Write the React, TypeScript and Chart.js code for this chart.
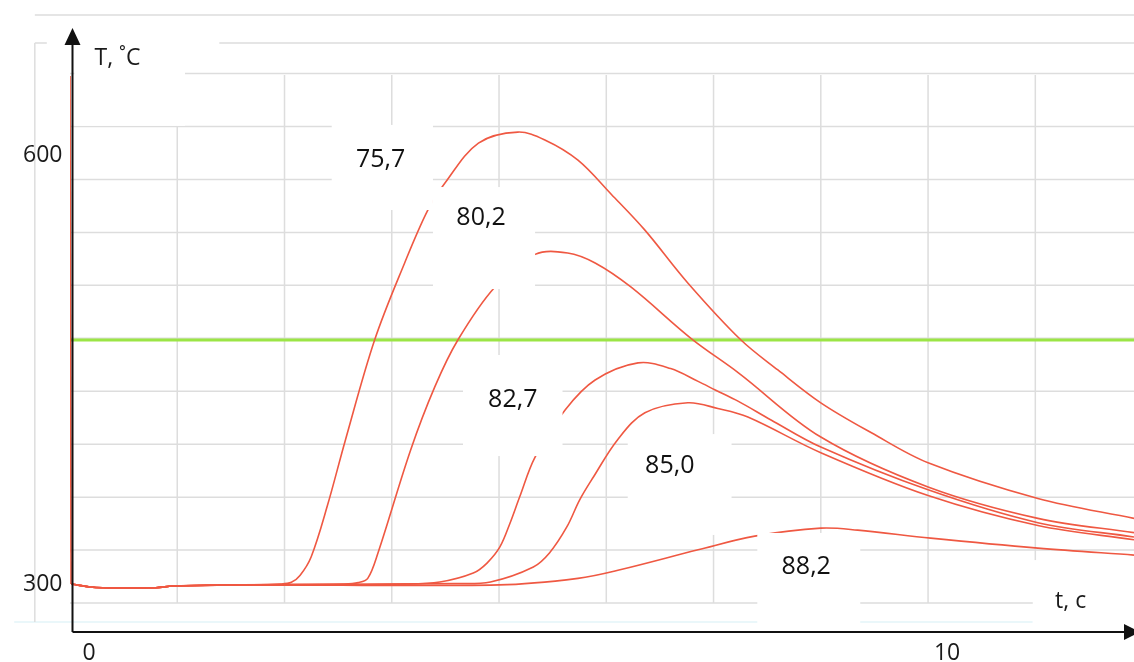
import React, { useEffect, useRef } from 'react';
import { Chart, registerables } from 'chart.js';

Chart.register(...registerables);

// ---- data (t, s ; T, °C) ----
const initialDrop: [number, number][] = [[0, 656], [0.012, 300]];
const curve757: [number, number][] = [
  [0.012, 300], [0.3, 297.6], [1.0, 297.4], [1.2, 298.6], [2.0, 299.4], [2.45, 300],
  [2.58, 301.2], [2.68, 306], [2.81, 319], [3.0, 355], [3.21, 401], [3.55, 471], [3.9, 525],
  [4.17, 562], [4.37, 581], [4.76, 609], [5.22, 616.7], [5.54, 611], [5.92, 597], [6.31, 573],
  [6.7, 548], [7.2, 511], [7.82, 471], [8.25, 450], [8.75, 427], [9.34, 406], [10.0, 385],
  [11.28, 360], [12.4, 346],
];
const curve802: [number, number][] = [
  [0.012, 300], [0.3, 297.6], [1.0, 297.4], [1.2, 298.6], [2.0, 299.4], [3.2, 300], [3.36, 301],
  [3.47, 304], [3.59, 322], [3.97, 394], [4.25, 438], [4.52, 471], [4.95, 508], [5.42, 531],
  [5.8, 532], [6.12, 525], [6.54, 508], [7.24, 472], [7.79, 448], [8.75, 403], [10.0, 368],
  [11.28, 346], [12.4, 336],
];
const curve827: [number, number][] = [
  [0.012, 300], [0.3, 297.6], [1.0, 297.4], [1.2, 298.6], [2.0, 299.4], [3.9, 300], [4.31, 301.4],
  [4.7, 307.7], [4.86, 314.7], [5.01, 326], [5.13, 343], [5.24, 361], [5.42, 389], [5.77, 422],
  [6.12, 443], [6.62, 455], [7.0, 451], [7.32, 442], [7.52, 436], [7.79, 428], [8.17, 415],
  [8.75, 396], [10.0, 366], [11.28, 343], [12.4, 333],
];
const curve850: [number, number][] = [
  [0.012, 300], [0.3, 297.6], [1.0, 297.4], [1.2, 298.6], [2.0, 299.4], [4.5, 300.3], [4.9, 301.5],
  [5.4, 312], [5.59, 322], [5.79, 340], [5.94, 359], [6.1, 375], [6.38, 401], [6.7, 420],
  [7.2, 427], [7.55, 423], [7.9, 417], [8.75, 392], [10.0, 362], [11.28, 341], [12.4, 331],
];
const curve882: [number, number][] = [
  [0.012, 300], [0.3, 297.6], [1.0, 297.4], [1.2, 298.6], [2.0, 299.4], [5.0, 299.4], [5.92, 304],
  [6.41, 310], [7.32, 324], [7.98, 333.6], [8.75, 339.2], [9.18, 337.8], [10.03, 332.2],
  [11.28, 325.2], [12.4, 320.3],
];
const curves = [curve757, curve802, curve827, curve850, curve882];
const curveLabels = ['75,7', '80,2', '82,7', '85,0', '88,2'];
const criticalTemp = 471;

const tMax = 12.4;
const TMin = 266.4;
const TMax = 656.7;
const xGridValues = [1.25, 2.5, 3.75, 5, 6.25, 7.5, 8.75, 10, 11.25];
const yGridValues = [286.7, 323.8, 360.9, 398.0, 435.1, 472.2, 509.3, 546.4, 583.5, 620.6, 657.7];
const yGridTopValues = [679.1, 698.7];
const xTickValues = [0, 10];
const yTickValues = [300, 600];
const xTitle = 't, c';
const yTitle = 'T, ˚C';

// label centres (t, T) and their white background boxes (t0, t1, Ttop, Tbottom)
const labelAnchors: [number, number][] = [
  [3.62, 597.1], [4.79, 556.5], [5.16, 428.9], [6.99, 382.7], [8.58, 311.9],
];
const labelBoxes: [number, number, number, number][] = [
  [3.05, 4.23, 621.7, 562.1],
  [4.23, 5.42, 578.2, 506.7],
  [4.58, 5.74, 460.5, 389.7],
  [6.5, 7.71, 405.1, 334.4],
  [8.01, 9.21, 335.8, 270.6],
  [11.22, 12.4, 316.8, 267.1],
  [0.05, 1.34, 682.6, 621.0],
  [-0.27, 1.74, 682.6, 670.0],
];

const RED = '#ef5842';
const GREEN = '#9be545';
const FONT = '"Open Sans", "Noto Sans", sans-serif';

const decor = {
  id: 'decor',
  beforeDatasetsDraw(chart: any) {
    const { ctx, chartArea: a, scales } = chart;
    const x = scales.x;
    const y = scales.y;
    const line = (x0: number, y0: number, x1: number, y1: number) => {
      ctx.beginPath();
      ctx.moveTo(x0, y0);
      ctx.lineTo(x1, y1);
      ctx.stroke();
    };
    ctx.save();
    ctx.lineWidth = 1.5;
    ctx.strokeStyle = '#e3f4f9';
    const cy = y.getPixelForValue(273.4);
    line(x.getPixelForValue(-0.65), cy, x.getPixelForValue(11.22), cy);
    ctx.strokeStyle = '#dddddd';
    const gridBottom = y.getPixelForValue(yGridValues[0]);
    yGridValues.forEach((v) => {
      const py = y.getPixelForValue(v);
      line(a.left, py, a.right, py);
    });
    yGridTopValues.forEach((v) => {
      const py = y.getPixelForValue(v);
      line(x.getPixelForValue(-0.41), py, a.right, py);
    });
    xGridValues.forEach((v) => {
      const px = x.getPixelForValue(v);
      line(px, a.top, px, gridBottom);
    });
    const lx = x.getPixelForValue(-0.41);
    line(lx, y.getPixelForValue(679.1), lx, y.getPixelForValue(273.4));
    ctx.restore();
  },
  afterDatasetsDraw(chart: any) {
    const { ctx, chartArea: a, scales } = chart;
    const x = scales.x;
    const y = scales.y;
    ctx.save();
    ctx.fillStyle = '#ffffff';
    labelBoxes.forEach(([t0, t1, T0, T1]) => {
      const x0 = x.getPixelForValue(t0);
      const x1 = x.getPixelForValue(t1);
      const y0 = y.getPixelForValue(T0);
      const y1 = y.getPixelForValue(T1);
      ctx.fillRect(x0, y0, x1 - x0, y1 - y0);
    });
    ctx.fillStyle = '#111111';
    ctx.font = `25px ${FONT}`;
    ctx.textAlign = 'center';
    ctx.textBaseline = 'middle';
    curveLabels.forEach((lbl, i) => {
      const [t, T] = labelAnchors[i];
      ctx.fillText(lbl, x.getPixelForValue(t), y.getPixelForValue(T));
    });
    const ox = x.getPixelForValue(0) + 2.5;
    const oy = a.bottom;
    ctx.strokeStyle = '#111111';
    ctx.fillStyle = '#111111';
    ctx.lineWidth = 2;
    ctx.beginPath();
    ctx.moveTo(ox, oy);
    ctx.lineTo(ox, 40);
    ctx.moveTo(ox, oy);
    ctx.lineTo(a.right, oy);
    ctx.stroke();
    ctx.beginPath();
    ctx.moveTo(ox, 28);
    ctx.lineTo(ox - 8, 45);
    ctx.lineTo(ox + 8, 45);
    ctx.closePath();
    ctx.fill();
    ctx.beginPath();
    ctx.moveTo(a.right + 6, oy);
    ctx.lineTo(a.right - 10, oy - 8);
    ctx.lineTo(a.right - 10, oy + 8);
    ctx.closePath();
    ctx.fill();
    ctx.fillStyle = '#1a1a1a';
    ctx.font = `23px ${FONT}`;
    ctx.textAlign = 'right';
    ctx.textBaseline = 'middle';
    yTickValues.forEach((v) => ctx.fillText(String(v), ox - 10, y.getPixelForValue(v)));
    ctx.textAlign = 'center';
    xTickValues.forEach((v) => ctx.fillText(String(v), x.getPixelForValue(v) + 19, oy + 21));
    ctx.textAlign = 'left';
    ctx.fillText(yTitle, ox + 22, 58);
    ctx.fillText(xTitle, a.right - 79, oy - 31);
    ctx.restore();
  },
};

export default function App() {
  const ref = useRef<HTMLCanvasElement | null>(null);
  useEffect(() => {
    if (!ref.current) return;
    const datasets: any[] = curves.map((c, i) => ({
      label: curveLabels[i],
      data: c.map(([t, T]) => ({ x: t, y: T })),
      borderColor: RED,
      borderWidth: 1.6,
      pointRadius: 0,
      fill: false,
      tension: 0.35,
    }));
    datasets.push({
      label: 'start',
      data: initialDrop.map(([t, T]) => ({ x: t, y: T })),
      borderColor: RED,
      borderWidth: 1.6,
      pointRadius: 0,
      fill: false,
      tension: 0,
    });
    datasets.push({
      label: 'critical',
      data: [
        { x: 0, y: criticalTemp },
        { x: tMax, y: criticalTemp },
      ],
      borderColor: GREEN,
      borderWidth: 3,
      pointRadius: 0,
      fill: false,
    });
    const chart = new Chart(ref.current, {
      type: 'line',
      data: { datasets },
      options: {
        animation: false,
        responsive: false,
        events: [],
        layout: { padding: { left: 70, right: 0, top: 75, bottom: 30 } },
        scales: {
          x: { type: 'linear', min: 0, max: tMax, display: false },
          y: { type: 'linear', min: TMin, max: TMax, display: false },
        },
        plugins: { legend: { display: false }, tooltip: { enabled: false } },
      },
      plugins: [decor],
    });
    return () => chart.destroy();
  }, []);
  return (
    <div style={{ position: 'absolute', left: 0, top: 0, width: 1134, height: 662, background: '#fff' }}>
      <canvas ref={ref} width={1134} height={662} />
    </div>
  );
}
